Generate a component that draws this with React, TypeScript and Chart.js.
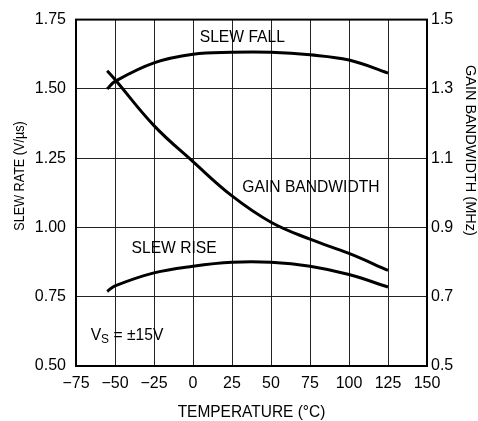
import { useEffect, useRef } from 'react';
import { Chart, registerables } from 'chart.js';

Chart.register(...registerables);

// Temperature (°C)
const temperatures = [-55, -50, -25, 0, 25, 50, 75, 100, 125];
// Slew rate, falling edge (V/µs) – left axis
const slewFall = [1.5, 1.527, 1.594, 1.625, 1.632, 1.632, 1.623, 1.604, 1.557];
// Slew rate, rising edge (V/µs) – left axis
const slewRise = [0.769, 0.789, 0.836, 0.86, 0.874, 0.874, 0.86, 0.83, 0.785];
// Gain bandwidth (MHz) – right axis
const gainBandwidth = [1.352, 1.327, 1.194, 1.09, 0.991, 0.915, 0.866, 0.825, 0.776];

// Axis ranges / tick steps
const xRange = [-75, 150];
const xStep = 25;
const leftRange = [0.5, 1.75];
const leftStep = 0.25;
const rightRange = [0.5, 1.5];
const rightStep = 0.2;

// Curve labels (text, temperature, slew-rate value)
const curveLabels: [string, number, number][] = [
  ['SLEW FALL', 4.3, 1.687],
  ['GAIN BANDWIDTH', 31.6, 1.143],
  ['SLEW RISE', -39.4, 0.924],
];
const supplyLabel = { main: 'V', sub: 'S', rest: ' = ±15V', x: -65.6, y: 0.61 };

const FONT = '"Liberation Sans", Arial, sans-serif';

function condensedText(ctx: CanvasRenderingContext2D, txt: string, x: number, y: number, size: number, squeeze: number, align: CanvasTextAlign = 'left') {
  ctx.save();
  ctx.font = `${size}px ${FONT}`;
  ctx.textAlign = align;
  ctx.translate(x, y);
  ctx.scale(squeeze, 1);
  ctx.fillText(txt, 0, 0);
  const w = ctx.measureText(txt).width * squeeze;
  ctx.restore();
  return w;
}

export default function App() {
  const ref = useRef<HTMLCanvasElement>(null);

  useEffect(() => {
    const canvas = ref.current;
    if (!canvas) return;

    const toPts = (vals: number[]) => temperatures.map((t, i) => ({ x: t, y: vals[i] }));

    const overlay = {
      id: 'overlay',
      afterDraw(chart: any) {
        const { ctx, chartArea, scales } = chart;
        ctx.save();
        // frame
        ctx.strokeStyle = '#000';
        ctx.lineWidth = 2;
        ctx.strokeRect(chartArea.left, chartArea.top, chartArea.right - chartArea.left, chartArea.bottom - chartArea.top);

        ctx.fillStyle = '#000';
        ctx.textBaseline = 'middle';
        for (const [txt, tx, ty] of curveLabels) {
          condensedText(ctx, txt, scales.x.getPixelForValue(tx), scales.y.getPixelForValue(ty), 17, 0.92);
        }
        // V_S = ±15V
        let px = scales.x.getPixelForValue(supplyLabel.x);
        const py = scales.y.getPixelForValue(supplyLabel.y);
        px += condensedText(ctx, supplyLabel.main, px, py, 17, 0.92);
        px += condensedText(ctx, supplyLabel.sub, px, py + 4, 13, 0.92);
        condensedText(ctx, supplyLabel.rest, px, py, 17, 0.92);

        // axis titles
        condensedText(ctx, 'TEMPERATURE (°C)', (chartArea.left + chartArea.right) / 2, 412, 17, 0.91, 'center');

        ctx.save();
        ctx.translate(20, 176);
        ctx.rotate(-Math.PI / 2);
        condensedText(ctx, 'SLEW RATE (V/µs)', 0, 0, 14.5, 0.87, 'center');
        ctx.restore();

        ctx.save();
        ctx.translate(470, 65);
        ctx.rotate(Math.PI / 2);
        condensedText(ctx, 'GAIN BANDWIDTH (MHz)', 0, 0, 14.5, 1, 'left');
        ctx.restore();

        ctx.restore();
      },
    };

    const line = {
      borderColor: '#000',
      borderWidth: 3,
      pointRadius: 0,
      fill: false,
      tension: 0.4,
    };

    const chart = new Chart(canvas, {
      type: 'line',
      data: {
        datasets: [
          { ...line, label: 'Slew Fall', data: toPts(slewFall), yAxisID: 'y' },
          { ...line, label: 'Slew Rise', data: toPts(slewRise), yAxisID: 'y' },
          { ...line, label: 'Gain Bandwidth', data: toPts(gainBandwidth), yAxisID: 'y1' },
        ],
      },
      options: {
        responsive: false,
        animation: false,
        layout: { padding: { top: 14, left: 0, right: 0, bottom: 0 } },
        plugins: { legend: { display: false }, tooltip: { enabled: false } },
        scales: {
          x: {
            type: 'linear',
            min: xRange[0],
            max: xRange[1],
            afterFit: (s: any) => { s.height = 55; },
            ticks: {
              stepSize: xStep,
              padding: 8,
              color: '#000',
              font: { family: FONT, size: 16 },
              maxRotation: 0,
              autoSkip: false,
              callback: (v: any) => String(v).replace('-', '−'),
            },
            grid: { color: '#222', lineWidth: 1, drawTicks: false },
            border: { display: false },
          },
          y: {
            type: 'linear',
            position: 'left',
            min: leftRange[0],
            max: leftRange[1],
            afterFit: (s: any) => { s.width = 76; },
            ticks: {
              stepSize: leftStep,
              padding: 10,
              color: '#000',
              font: { family: FONT, size: 16 },
              callback: (v: any) => Number(v).toFixed(2),
            },
            grid: { color: '#222', lineWidth: 1, drawTicks: false },
            border: { display: false },
          },
          y1: {
            type: 'linear',
            position: 'right',
            min: rightRange[0],
            max: rightRange[1],
            afterFit: (s: any) => { s.width = 51; },
            ticks: {
              stepSize: rightStep,
              padding: 4,
              color: '#000',
              font: { family: FONT, size: 16 },
              callback: (v: any) => Number(v).toFixed(1),
            },
            grid: { display: false, drawTicks: false },
            border: { display: false },
          },
        },
      },
      plugins: [overlay],
    });

    return () => chart.destroy();
  }, []);

  return (
    <div style={{ position: 'fixed', left: 0, top: 0, width: 478, height: 421, background: '#fff' }}>
      <canvas ref={ref} width={478} height={421} style={{ display: 'block', width: 478, height: 421 }} />
    </div>
  );
}
